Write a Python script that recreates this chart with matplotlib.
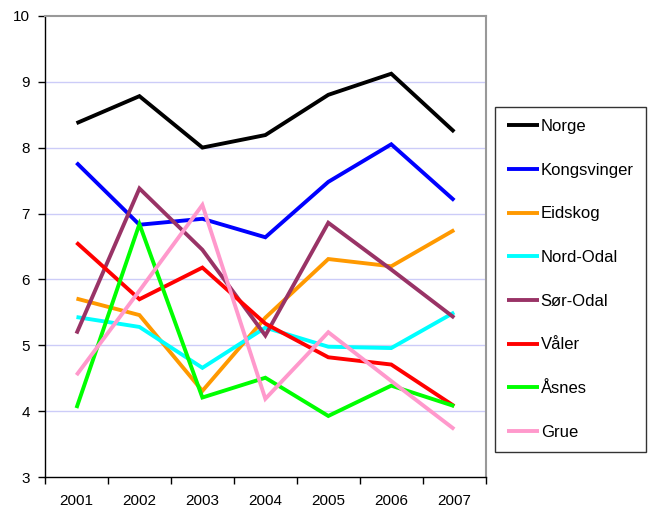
import matplotlib
matplotlib.use("Agg")
import matplotlib.pyplot as plt
import numpy as np

years = ["2001", "2002", "2003", "2004", "2005", "2006", "2007"]

norge       = [8.37, 8.78, 8.00, 8.19, 8.80, 9.12, 8.24]
kongsvinger = [7.77, 6.83, 6.92, 6.64, 7.48, 8.05, 7.20]
eidskog     = [5.71, 5.46, 4.31, 5.42, 6.31, 6.20, 6.75]
nord_odal   = [5.43, 5.28, 4.66, 5.27, 4.98, 4.96, 5.50]
sor_odal    = [5.18, 7.38, 6.45, 5.15, 6.86, 6.15, 5.42]
valer       = [6.56, 5.70, 6.18, 5.33, 4.82, 4.71, 4.08]
asnes       = [4.05, 6.84, 4.21, 4.51, 3.93, 4.39, 4.08]
grue        = [4.55, 5.83, 7.13, 4.19, 5.20, 4.46, 3.73]

series = [
    ("Norge", norge, "#000000"),
    ("Kongsvinger", kongsvinger, "#0000ff"),
    ("Eidskog", eidskog, "#ff9900"),
    ("Nord-Odal", nord_odal, "#00ffff"),
    ("Sør-Odal", sor_odal, "#993366"),
    ("Våler", valer, "#ff0000"),
    ("Åsnes", asnes, "#00ff00"),
    ("Grue", grue, "#ff99cc"),
]

plt.rcParams["font.family"] = ["Liberation Sans", "DejaVu Sans"]
plt.rcParams["font.size"] = 11

fig = plt.figure(figsize=(6.5, 5.11), dpi=100)
ax = fig.add_axes([45 / 650, 1 - 477.3 / 511, (485.7 - 45) / 650, (477.3 - 15.7) / 511])

x = np.arange(len(years))
for name, vals, col in series:
    ax.plot(x, vals, color=col, lw=2.8, label=name, solid_joinstyle="miter",
            solid_capstyle="butt")

ax.set_ylim(3, 10)
ax.set_yticks(range(3, 11))
ax.set_xlim(-0.5, len(years) - 0.5)
ax.set_xticks(np.arange(-0.5, len(years)), minor=False)
ax.set_xticklabels([])
ax.set_xticks(x, minor=True)
ax.set_xticklabels(years, minor=True)
ax.tick_params(axis="x", which="minor", length=0, pad=12, labelsize=11)
ax.tick_params(axis="x", which="major", length=5, direction="out", width=1)
ax.tick_params(axis="y", length=5, direction="out", width=1, pad=6, labelsize=11)

for v in range(4, 10):
    ax.axhline(v, color="#ccccf8", lw=1, zorder=0)

for side in ["left", "bottom"]:
    ax.spines[side].set_color("#000000")
    ax.spines[side].set_linewidth(1)
for side in ["top", "right"]:
    ax.spines[side].set_color("#999999")
    ax.spines[side].set_linewidth(1.5)

leg = fig.legend(loc="upper left", bbox_to_anchor=(495 / 650, 1 - 107 / 511),
                 frameon=True, fancybox=False, fontsize=12,
                 handlelength=1.9, handletextpad=0.12,
                 labelspacing=1.72, borderpad=0.72, borderaxespad=0)
leg.get_frame().set_edgecolor("#000000")
leg.get_frame().set_linewidth(1)

fig.savefig("out.png", dpi=100)
